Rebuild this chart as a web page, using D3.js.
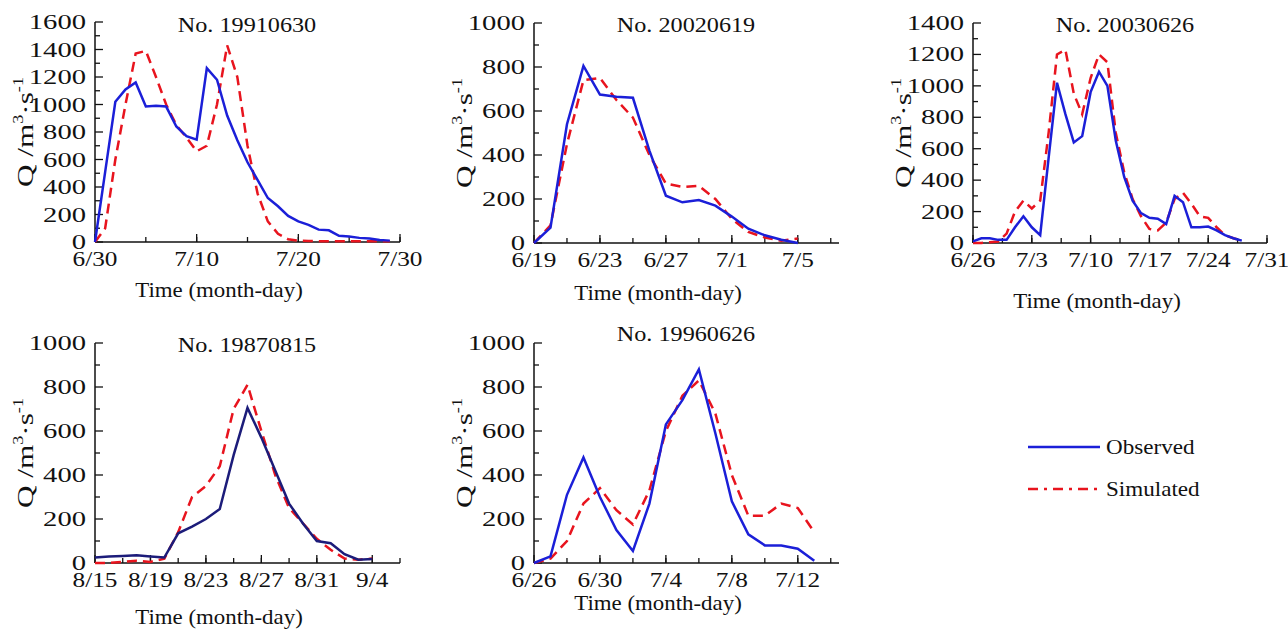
<!DOCTYPE html>
<html><head><meta charset="utf-8">
<script src="https://cdn.jsdelivr.net/npm/d3@7"></script>
<style>body{margin:0;background:#fff}</style>
</head><body><svg id="c" width="1288" height="631" font-family="'Liberation Serif', 'Times New Roman', Times, serif" fill="#111"></svg>
<script>
// event ids, tick labels and daily flows (m3/s), day 0 = first tick
var titles = ["No. 19910630", "No. 20020619", "No. 20030626", "No. 19870815", "No. 19960626"];
var tickLabels = [
  ["6/30", "7/10", "7/20", "7/30"],
  ["6/19", "6/23", "6/27", "7/1", "7/5"],
  ["6/26", "7/3", "7/10", "7/17", "7/24", "7/31"],
  ["8/15", "8/19", "8/23", "8/27", "8/31", "9/4"],
  ["6/26", "6/30", "7/4", "7/8", "7/12"]
];
var tickStep = [10, 4, 7, 4, 4];
var xMax = [30, 18.5, 35, 22, 18.5];
var yMax = [1600, 1000, 1400, 1000, 1000];
var observed = [
  [0,510,1020,1110,1160,985,990,985,840,770,745,1265,1180,920,740,580,450,320,260,190,150,125,90,85,45,40,30,25,15,10],
  [0,70,540,805,675,665,660,420,215,185,195,170,120,65,35,15,0],
  [10,30,30,20,20,100,170,100,50,540,1020,820,640,680,960,1090,1000,650,420,270,190,160,155,120,300,260,100,100,105,80,50,30,15],
  [25,30,32,35,30,25,135,165,200,245,490,705,570,420,270,180,100,90,40,15,18],
  [0,30,310,480,300,150,55,270,630,740,880,590,280,130,80,80,65,10]
];
var simulated = [
  [0,100,600,1000,1370,1390,1200,1000,850,760,660,700,1000,1430,1200,700,350,150,60,20,10,8,6,5,5,5,5,5,5,5],
  [0,80,450,740,750,650,570,400,270,255,260,200,110,50,25,10,20],
  [0,0,5,10,60,200,270,220,270,700,1200,1230,950,820,1050,1200,1150,700,450,280,170,90,80,130,280,320,250,170,160,100,50,30,15],
  [0,0,5,10,5,20,140,300,350,440,700,810,600,400,250,180,110,60,20,15,20],
  [0,20,100,270,340,240,175,330,600,760,830,680,400,215,215,270,250,140]
];
// panel frames: left x, top y (at yMax), bottom y, width, title y, x-label y
var frames = [
  {x:95, top:22, bot:242, w:305, ty:32, ly:297},
  {x:534, top:23, bot:243, w:305, ty:32, ly:300},
  {x:973, top:23, bot:243, w:294, ty:32, ly:308},
  {x:95, top:343, bot:563, w:305, ty:352, ly:624},
  {x:534, top:343, bot:563, w:305, ty:341, ly:610}
];
var blue = "#1b1fd8", red = "#e8141e";
var fs = 22;
var svg = d3.select("#c");

function stretched(sel, sx) {
  // reference glyphs are wider than the font; widen them a little
  return sel.attr("transform", "translate(" + sel.attr("x") + "," + sel.attr("y") + ") scale(" + sx + ",1)").attr("x", 0).attr("y", 0);
}

frames.forEach(function (f, i) {
  var g = svg.append("g");
  var x = d3.scaleLinear().domain([0, xMax[i]]).range([f.x, f.x + f.w]);
  var y = d3.scaleLinear().domain([0, yMax[i]]).range([f.bot, f.top]);
  var majX = tickLabels[i].map(function (d, k) { return k * tickStep[i]; });
  var minX = i === 2 ? d3.range(0, 36, 3.5) : d3.range(tickStep[i] / 2, xMax[i] + 0.01, tickStep[i] / 2);
  // x axis (inward ticks)
  g.append("line").attr("x1", f.x).attr("x2", f.x + f.w).attr("y1", f.bot).attr("y2", f.bot).attr("stroke", "#111").attr("stroke-width", 1.5);
  minX.forEach(function (t) {
    g.append("line").attr("x1", x(t)).attr("x2", x(t)).attr("y1", f.bot).attr("y2", f.bot - 5).attr("stroke", "#111").attr("stroke-width", 1.3);
  });
  majX.forEach(function (t, k) {
    g.append("line").attr("x1", x(t)).attr("x2", x(t)).attr("y1", f.bot).attr("y2", f.bot - 8).attr("stroke", "#111").attr("stroke-width", 1.3);
    stretched(g.append("text").attr("x", x(t)).attr("y", f.bot + 24).attr("text-anchor", "middle").attr("font-size", fs).text(tickLabels[i][k]), 1.15);
  });
  // y axis
  g.append("line").attr("x1", f.x).attr("x2", f.x).attr("y1", f.bot).attr("y2", f.top).attr("stroke", "#111").attr("stroke-width", 1.5);
  var yStep = 200;
  d3.range(0, yMax[i] + 1, yStep / 2).forEach(function (t) {
    var major = t % yStep === 0;
    g.append("line").attr("x1", f.x).attr("x2", f.x + (major ? 8 : 5)).attr("y1", y(t)).attr("y2", y(t)).attr("stroke", "#111").attr("stroke-width", 1.3);
    if (major) stretched(g.append("text").attr("x", f.x - 9).attr("y", y(t) + 7).attr("text-anchor", "end").attr("font-size", fs).text(t), 1.3);
  });
  // labels
  stretched(g.append("text").attr("x", f.x + 152).attr("y", f.ty).attr("text-anchor", "middle").attr("font-size", fs).text(titles[i]), 1.1);
  stretched(g.append("text").attr("x", f.x + 124).attr("y", f.ly).attr("text-anchor", "middle").attr("font-size", fs).text("Time (month-day)"), 1.04);
  var yl = g.append("text").attr("transform", "translate(" + (f.x - 62) + "," + ((f.top + f.bot) / 2) + ") rotate(-90) scale(1.3,1)")
    .attr("text-anchor", "middle").attr("font-size", 24);
  yl.append("tspan").text("Q /m");
  yl.append("tspan").attr("font-size", 14).attr("dy", -10).text("3");
  yl.append("tspan").attr("dy", 10).text("·s");
  yl.append("tspan").attr("font-size", 14).attr("dy", -10).text("-1");
  // series
  var line = d3.line().x(function (d, k) { return x(k); }).y(function (d) { return y(d); });
  g.append("path").datum(simulated[i]).attr("d", line).attr("fill", "none").attr("stroke", red).attr("stroke-width", 2.5).attr("stroke-dasharray", "10,6");
  g.append("path").datum(observed[i]).attr("d", line).attr("fill", "none").attr("stroke", i === 3 ? "#1c1c7a" : blue).attr("stroke-width", 2.5);
});

// legend
var legend = [["Observed", blue, null], ["Simulated", red, "10,6,3,6"]];
legend.forEach(function (d, k) {
  var ly = 447 + k * 42;
  svg.append("line").attr("x1", 1028).attr("x2", 1100).attr("y1", ly).attr("y2", ly).attr("stroke", d[1]).attr("stroke-width", 2.5).attr("stroke-dasharray", d[2]);
  stretched(svg.append("text").attr("x", 1106).attr("y", ly + 7).attr("font-size", fs).text(d[0]), 1.05);
});
</script></body></html>
